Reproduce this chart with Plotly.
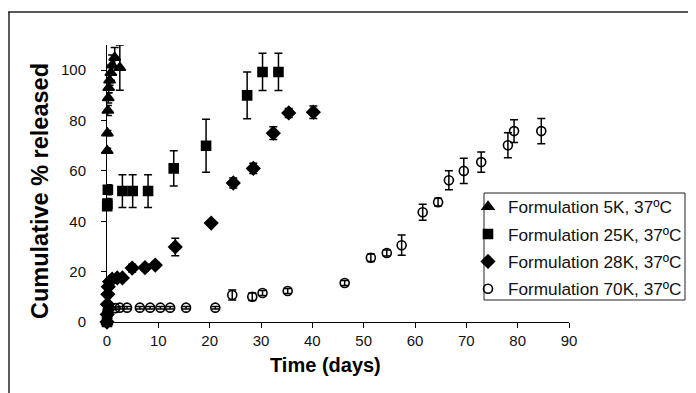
import plotly.graph_objects as go

# ---- data ----
names = ["Formulation 5K, 37ºC", "Formulation 25K, 37ºC",
         "Formulation 28K, 37ºC", "Formulation 70K, 37ºC"]

t_5k = [0, 0.04, 0.08, 0.17, 0.25, 0.33, 0.5, 0.75, 1.0, 1.5, 2.5]
v_5k = [0, 68, 75, 84, 89, 93, 96, 99, 102, 105, 101]
e_5k = [0, 1, 1, 2, 2, 2, 2, 3, 4, 4, 9]

t_25k = [0, 0.04, 0.08, 0.17, 3, 5, 8, 13, 19.3, 27.3, 30.3, 33.4]
v_25k = [0, 46, 47, 52.5, 52, 52, 52, 61, 70, 90, 99.3, 99.3]
e_25k = [0, 1, 2, 2, 6.5, 6.5, 6.5, 7, 10.5, 9.3, 7.4, 7.4]

t_28k = [0, 0.04, 0.08, 0.17, 0.25, 0.5, 1, 2, 3, 4.9, 7.4, 9.4, 13.3,
         20.3, 24.6, 28.5, 32.4, 35.4, 40.2]
v_28k = [0, 3, 7, 11, 14, 16, 17, 17.5, 17.5, 21.4, 21.6, 22.6, 29.8,
         39.3, 55.2, 61, 75, 83, 83.3]
e_28k = [0, 0.5, 1, 1, 1, 1, 1, 1, 1, 1.5, 1.2, 1.2, 3.5,
         0.8, 2, 2, 2.5, 1.8, 2.5]

t_70k = [0, 0.04, 0.08, 0.17, 0.5, 1.6, 2.5, 3.9, 6.4, 8.4, 10.4, 12.3, 15.4,
         21.1, 24.4, 28.3, 30.3, 35.2, 46.3, 51.4, 54.5, 57.4, 61.5, 64.5,
         66.6, 69.5, 72.9, 78.1, 79.3, 84.6]
v_70k = [0, 2, 4, 5, 5.5, 5.5, 5.7, 5.7, 5.7, 5.7, 5.7, 5.7, 5.7,
         5.7, 10.7, 10, 11.5, 12.3, 15.5, 25.5, 27.4, 30.5, 43.6, 47.6,
         56.3, 60, 63.5, 70.2, 75.8, 75.8]
e_70k = [0, 0.5, 0.5, 0.5, 0.5, 0.5, 0.5, 0.5, 0.5, 0.5, 0.5, 0.5, 0.5,
         0.5, 2, 1.5, 1, 1, 1, 1.5, 1.2, 4, 3.2, 1.5,
         3.8, 5, 4, 5, 4.5, 5]

x_ticks = [0, 10, 20, 30, 40, 50, 60, 70, 80, 90]
y_ticks = [0, 20, 40, 60, 80, 100]

series = [
    (t_5k, v_5k, e_5k, "triangle-up", 10),
    (t_25k, v_25k, e_25k, "square", 9),
    (t_28k, v_28k, e_28k, "diamond", 10),
    (t_70k, v_70k, e_70k, "circle-open", 9),
]

# the page puts the figure 8px in from the top-left corner
OFF = 8
W, H = 696, 393
PX0, PX1, PY0, PY1 = 107, 569, 45, 322   # plot area in screen pixels
L, R, T, B = PX0 - OFF, (OFF + W) - PX1, PY0 - OFF, (OFF + H) - PY1
PW, PH = PX1 - PX0, PY1 - PY0


def px_x(s):
    return (s - PX0) / PW


def px_y(s):
    return (PY1 - s) / PH


fig = go.Figure()
for i, (t, v, e, sym, sz) in enumerate(series):
    fig.add_trace(go.Scatter(
        x=t, y=v, mode="markers", name=names[i], legendgroup=str(i),
        cliponaxis=False,
        marker=dict(symbol=sym, size=sz, color="black",
                    line=dict(color="black", width=1.6)),
        error_y=dict(type="data", array=e, visible=True, color="black",
                     thickness=1.5, width=4),
    ))

font_family = "Liberation Sans, Arial, Helvetica, sans-serif"

fig.update_layout(
    width=W, height=H,
    margin=dict(l=L, r=R, t=T, b=B),
    paper_bgcolor="white", plot_bgcolor="white",
    font=dict(family=font_family, color="#111"),
    showlegend=True,
    legend=dict(x=px_x(468), y=px_y(189), xanchor="left", yanchor="top",
                borderwidth=0, bgcolor="rgba(0,0,0,0)",
                font=dict(size=17.2, family=font_family, color="#111"),
                tracegroupgap=2, itemwidth=30),
    xaxis=dict(range=[0, 90], tickvals=x_ticks, showgrid=False, zeroline=False,
               showline=True, linecolor="black", linewidth=1, automargin=False,
               ticks="outside", ticklen=5, tickcolor="black",
               ticklabelstandoff=0,
               tickfont=dict(size=15, color="#111")),
    yaxis=dict(range=[0, 110], tickvals=y_ticks, showgrid=False, zeroline=False,
               showline=True, linecolor="black", linewidth=1, automargin=False,
               ticks="outside", ticklen=5, tickcolor="black",
               ticklabelstandoff=12,
               tickfont=dict(size=15, color="#111")),
    annotations=[
        dict(text="<b>Time (days)</b>", xref="paper", yref="paper",
             x=px_x(325), y=px_y(365), xanchor="center", yanchor="middle",
             showarrow=False, font=dict(size=20, color="black")),
        dict(text="<b>Cumulative % released</b>", xref="paper", yref="paper",
             x=px_x(40), y=px_y(191), xanchor="center", yanchor="middle",
             textangle=-90, showarrow=False, font=dict(size=23.5, color="black")),
    ],
    shapes=[
        dict(type="line", xref="paper", yref="paper",
             x0=px_x(8), x1=px_x(700), y0=px_y(12), y1=px_y(12),
             line=dict(color="#222", width=1.5)),
        dict(type="line", xref="paper", yref="paper",
             x0=px_x(9), x1=px_x(9), y0=px_y(12), y1=px_y(400),
             line=dict(color="#222", width=1.5)),
        dict(type="rect", xref="paper", yref="paper",
             x0=px_x(484), x1=px_x(685), y0=px_y(193), y1=px_y(300),
             line=dict(color="#222", width=1), fillcolor="rgba(0,0,0,0)"),
    ],
)

fig.write_html("out.html")
